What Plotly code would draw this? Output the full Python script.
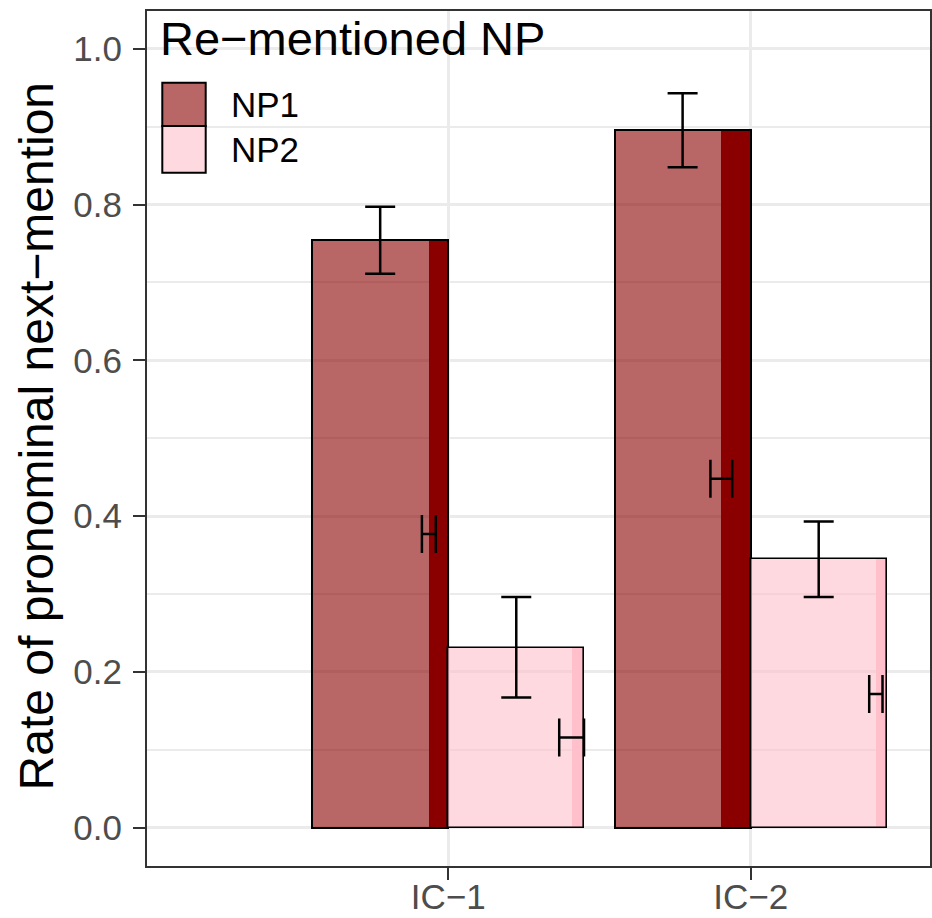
import plotly.graph_objects as go

# ---------------- data ----------------
categories = ["IC-1", "IC-2"]
series_names = ["NP1", "NP2"]

np1_mean = [0.754, 0.896]
np1_upper = [0.797, 0.943]
np1_lower = [0.711, 0.848]

np2_mean = [0.231, 0.345]
np2_upper = [0.296, 0.393]
np2_lower = [0.167, 0.296]

# narrow overlay bars (second layer) and their horizontal error bars
np1_strip_w = [0.064, 0.097]
np2_strip_w = [0.042, 0.036]
np1_h_y = [0.377, 0.448]
np1_h_half = [0.023, 0.036]
np2_h_y = [0.1155, 0.1714]
np2_h_half = [0.041, 0.022]

y_ticks = [0.0, 0.2, 0.4, 0.6, 0.8, 1.0]
y_tick_text = ["0.0", "0.2", "0.4", "0.6", "0.8", "1.0"]
legend_title = "Re\u2212mentioned NP"
y_title = "Rate of pronominal next\u2212mention"
x_tick_text = ["IC\u22121", "IC\u22122"]

# ---------------- styles ----------------
FONT = "Liberation Sans, Arial, sans-serif"
DARK = "#8B0000"
PINK = "#FFC0CB"
NP1_FILL = "rgba(139,0,0,0.6)"
NP2_FILL = "rgba(255,192,203,0.6)"
NP1_KEY = "#B96666"
NP2_KEY = "#FFD9E0"
GRID = "#EBEBEB"
BORDER = "#333333"
BW = 0.45  # dodge bar width

xpos = list(range(len(categories)))

fig = go.Figure()

# narrow strips (drawn beneath the wide bars)
fig.add_trace(go.Bar(
    x=xpos, y=np1_mean, width=np1_strip_w,
    offset=[-w for w in np1_strip_w],
    marker=dict(color=DARK, line=dict(width=0)), showlegend=False,
))
fig.add_trace(go.Bar(
    x=xpos, y=np2_mean, width=np2_strip_w,
    offset=[BW - w for w in np2_strip_w],
    marker=dict(color=PINK, line=dict(width=0)), showlegend=False,
))

# wide semi-transparent bars with error bars
fig.add_trace(go.Bar(
    x=xpos, y=np1_mean, width=BW, offset=-BW, name=series_names[0],
    marker=dict(color=NP1_FILL, line=dict(color="black", width=2)),
    error_y=dict(type="data", symmetric=False,
                 array=[u - m for u, m in zip(np1_upper, np1_mean)],
                 arrayminus=[m - l for m, l in zip(np1_mean, np1_lower)],
                 color="black", thickness=2.5, width=15),
    showlegend=False,
))
fig.add_trace(go.Bar(
    x=xpos, y=np2_mean, width=BW, offset=0, name=series_names[1],
    marker=dict(color=NP2_FILL, line=dict(color="black", width=1.6)),
    error_y=dict(type="data", symmetric=False,
                 array=[u - m for u, m in zip(np2_upper, np2_mean)],
                 arrayminus=[m - l for m, l in zip(np2_mean, np2_lower)],
                 color="black", thickness=2.5, width=15),
    showlegend=False,
))

# horizontal (H-shaped) error bars at the narrow strips
fig.add_trace(go.Scatter(
    x=[p - w for p, w in zip(xpos, np1_strip_w)], y=np1_h_y, mode="markers",
    marker=dict(size=1, opacity=0),
    error_x=dict(type="data", array=np1_h_half, color="black", thickness=2.5, width=19),
    showlegend=False, hoverinfo="skip",
))
fig.add_trace(go.Scatter(
    x=[p + BW - w for p, w in zip(xpos, np2_strip_w)], y=np2_h_y, mode="markers",
    marker=dict(size=1, opacity=0),
    error_x=dict(type="data", array=np2_h_half, color="black", thickness=2.5, width=19),
    showlegend=False, hoverinfo="skip",
))

# ---------------- layout ----------------
L, T, R, B = 147, 11, 930, 866
W, H = R - L, B - T

def px(x):
    return (x - L) / W

def py(y):
    return 1 - (y - T) / H

fig.update_layout(
    width=932, height=918,
    margin=dict(l=L, r=932 - R, t=T, b=918 - B),
    paper_bgcolor="white", plot_bgcolor="white",
    barmode="overlay", bargap=0,
    font=dict(family=FONT),
    showlegend=False,
    xaxis=dict(
        range=[-0.996, 1.593], tickmode="array", tickvals=xpos, ticktext=x_tick_text,
        automargin=False, ticklabelstandoff=-13,
        showgrid=True, gridcolor=GRID, gridwidth=2.8, zeroline=False,
        showline=True, linecolor=BORDER, linewidth=2.2, mirror=True,
        ticks="outside", ticklen=12, tickwidth=2.4, tickcolor=BORDER,
        tickfont=dict(size=35, color="#4D4D4D", family=FONT),
    ),
    yaxis=dict(
        range=[-0.0494, 1.0485], tickmode="array", tickvals=y_ticks, ticktext=y_tick_text,
        automargin=False, ticklabelstandoff=4,
        showgrid=True, gridcolor=GRID, gridwidth=2.8, zeroline=False,
        minor=dict(tickmode="array", tickvals=[0.1, 0.3, 0.5, 0.7, 0.9],
                   showgrid=True, gridcolor=GRID, gridwidth=1.6, ticks=""),
        showline=True, linecolor=BORDER, linewidth=2.2, mirror=True,
        ticks="outside", ticklen=12, tickwidth=2.4, tickcolor=BORDER,
        tickfont=dict(size=35, color="#4D4D4D", family=FONT),
    ),
)

# y-axis title
fig.add_annotation(
    text=y_title, xref="paper", yref="paper", x=0, y=py(436.7),
    xanchor="center", yanchor="middle", xshift=36.7 - L, textangle=-90,
    showarrow=False, font=dict(size=48, color="black", family=FONT),
)

# legend (inside panel, top-left)
fig.add_annotation(
    text=legend_title, xref="paper", yref="paper", x=px(158), y=py(38.4),
    xanchor="left", yanchor="middle", showarrow=False,
    font=dict(size=47, color="black", family=FONT),
)
key_fills = [NP1_KEY, NP2_KEY]
key_rows = [(82.7, 126.0), (126.0, 172.7)]
for name, fill, (y0, y1) in zip(series_names, key_fills, key_rows):
    fig.add_shape(type="rect", xref="paper", yref="paper",
                  x0=px(162.3), x1=px(205.7), y0=py(y1), y1=py(y0),
                  fillcolor=fill, line=dict(color="black", width=2))
    fig.add_annotation(
        text=name, xref="paper", yref="paper", x=px(229), y=py((y0 + y1) / 2 + 0.5),
        xanchor="left", yanchor="middle", showarrow=False,
        font=dict(size=35, color="black", family=FONT),
    )

fig.write_html("out.html")
